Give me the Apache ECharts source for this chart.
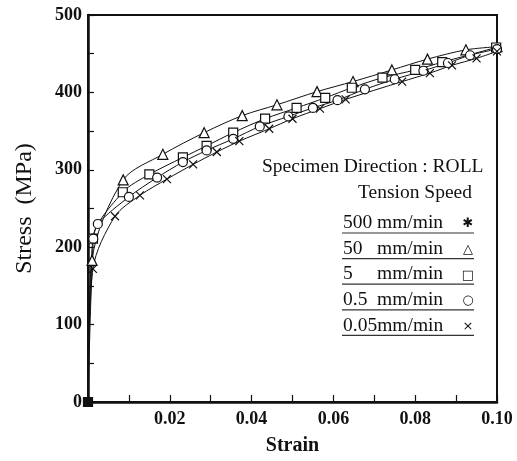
<!DOCTYPE html>
<html>
<head>
<meta charset="utf-8">
<script src="https://cdn.jsdelivr.net/npm/echarts@6/dist/echarts.min.js"></script>
<style>
  html, body { margin: 0; padding: 0; background: #fff; }
  #chart { width: 517px; height: 461px; }
</style>
</head>
<body>
<div id="chart"></div>
<script>
// strain / stress (MPa)
const speed50 = [[0,0],[0.0010,183],[0.0086,287],[0.0183,320],[0.0284,348],[0.0377,370],[0.0462,384],[0.056,401],[0.0648,414],[0.0743,429],[0.083,443],[0.0924,455],[0.100,459]];
const speed5 = [[0,0],[0.0012,211],[0.0085,271],[0.0150,294],[0.0232,316],[0.029,331],[0.0355,348],[0.0433,366],[0.051,380],[0.058,393],[0.0645,406],[0.072,419],[0.080,429],[0.0866,439],[0.0998,458]];
const speed05 = [[0,0],[0.0013,211],[0.0024,230],[0.010,265],[0.0169,290],[0.0232,310],[0.029,325],[0.0355,340],[0.042,356],[0.049,369],[0.055,380],[0.061,390],[0.0677,404],[0.075,417],[0.082,428],[0.088,438],[0.0934,448],[0.100,456]];
const speed005 = [[0,0],[0.0012,172],[0.0066,240],[0.0127,267],[0.0193,288],[0.0257,307],[0.0315,323],[0.037,337],[0.0443,353],[0.050,366],[0.0567,379],[0.063,391],[0.0768,414],[0.0836,425],[0.089,435],[0.095,444],[0.100,453]];
const speed500 = [[0,0]];

const legendNums = ['500', '50', '5', '0.5', '0.05mm/min'];
const legendMarks = ['✱', '△', '□', '○', '×'];

const crossPath = 'path://M0,0L10,10M10,0L0,10';

function line(name, data, symbol, size) {
  return {
    name: name,
    type: 'line',
    data: data.map((p, i) => i === 0 ? { value: p, symbol: 'none' } : p),
    smooth: 0.3,
    symbol: symbol,
    symbolSize: size,
    showAllSymbol: true,
    lineStyle: { color: '#111', width: 1 },
    itemStyle: { color: '#fff', borderColor: '#111', borderWidth: 1.2 },
    z: 3
  };
}

const chart = echarts.init(document.getElementById('chart'));

// legend table drawn as graphic
const legendItems = [];
legendItems.push({ type: 'text', left: 262, top: 157, style: { text: 'Specimen Direction : ROLL', font: '19.5px "Liberation Serif"', fill: '#111' } });
legendItems.push({ type: 'text', left: 358, top: 183, style: { text: 'Tension Speed', font: '19.5px "Liberation Serif"', fill: '#111' } });
legendNums.forEach((t, i) => {
  const y = 213 + i * 25.6;
  legendItems.push({ type: 'text', left: 343, top: y, style: { text: t, font: '19.5px "Liberation Serif"', fill: '#111' } });
  if (i < 4) {
    legendItems.push({ type: 'text', left: 377, top: y, style: { text: 'mm/min', font: '19.5px "Liberation Serif"', fill: '#111' } });
  }
  legendItems.push({ type: 'text', x: 468, y: y + 11, style: { text: legendMarks[i], font: '13px "DejaVu Sans"', fill: '#111', align: 'center', verticalAlign: 'middle' } });
  legendItems.push({ type: 'line', shape: { x1: 342, y1: y + 20, x2: 474, y2: y + 20 }, style: { stroke: '#333', lineWidth: 1.2 } });
});

chart.setOption({
  backgroundColor: '#fff',
  animation: false,
  grid: { left: 88, right: 20, top: 15, bottom: 57, show: true, borderColor: '#111', borderWidth: 2 },
  xAxis: {
    type: 'value',
    min: 0,
    max: 0.1,
    interval: 0.01,
    name: 'Strain',
    nameLocation: 'middle',
    nameGap: 34,
    nameTextStyle: { fontFamily: 'Liberation Serif', fontWeight: 'bold', fontSize: 20, color: '#111' },
    axisLine: { lineStyle: { color: '#111', width: 2.5 } },
    axisTick: { inside: true, length: 7, lineStyle: { color: '#111', width: 1.2 } },
    splitLine: { show: false },
    axisLabel: {
      margin: 8,
      fontFamily: 'Liberation Serif', fontWeight: 'bold', fontSize: 18, color: '#111',
      formatter: function (v) {
        const k = Math.round(v * 100);
        return (k > 0 && k % 2 === 0) ? (k / 100).toFixed(2) : '';
      }
    }
  },
  yAxis: {
    type: 'value',
    min: 0,
    max: 500,
    interval: 50,
    name: 'Stress  (MPa)',
    nameLocation: 'middle',
    nameGap: 51,
    nameTextStyle: { fontFamily: 'Liberation Serif', fontSize: 24, color: '#111' },
    axisLine: { show: true, lineStyle: { color: '#111', width: 2.5 } },
    axisTick: { show: true, inside: true, length: 6, lineStyle: { color: '#111', width: 1.2 } },
    splitLine: { show: false },
    axisLabel: {
      margin: 6,
      fontFamily: 'Liberation Serif', fontWeight: 'bold', fontSize: 18, color: '#111',
      formatter: function (v) { return v % 100 === 0 ? String(v) : ''; }
    }
  },
  series: [
    line('500 mm/min', speed500, 'rect', 9),
    line('50 mm/min', speed50, 'triangle', 10),
    line('5 mm/min', speed5, 'rect', 9),
    line('0.5 mm/min', speed05, 'circle', 9),
    line('0.05mm/min', speed005, crossPath, 8)
  ],
  graphic: legendItems
});
// origin marker is a filled black square in the picture
chart.setOption({ series: [{ data: [{ value: speed500[0], symbol: 'rect', itemStyle: { color: '#111' } }] }] });
</script>
</body>
</html>
